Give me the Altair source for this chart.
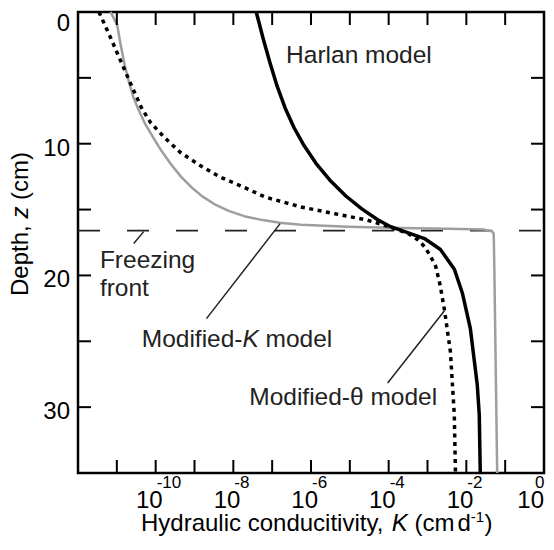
import altair as alt
import pandas as pd

FONT = "Liberation Sans"
W, H = 466, 461

# ---------------- data (depth in cm, log10 K in cm/d) ----------------
harlan_depth = [0, 2.028, 3.906, 5.633, 7.286, 8.788, 10.14, 11.49, 12.77, 13.97, 14.95, 15.77,
                16.30, 16.75, 17.20, 18.03, 19.53, 21.33, 24.03, 28.32, 30.57, 35.0]
harlan_logk = [-7.410, -7.231, -7.051, -6.872, -6.667, -6.436, -6.179, -5.872, -5.513, -5.103, -4.692, -4.282,
               -3.949, -3.513, -3.077, -2.667, -2.308, -2.103, -1.897, -1.718, -1.667, -1.641]

theta_depth = [0, 2.03, 4.06, 6.0, 7.3, 8.4, 9.54, 10.67, 11.57, 12.54, 13.29, 14.05, 14.8, 15.32,
               15.77, 16.15, 16.45, 16.8, 17.27, 17.8, 18.55, 19.3, 20.8, 22.68, 25.8, 30.57, 35.0]
theta_logk = [-11.46, -11.15, -10.85, -10.56, -10.36, -10.13, -9.77, -9.36, -8.90, -8.33, -7.74, -7.18,
              -6.26, -5.38, -4.59, -4.15, -3.85, -3.51, -3.26, -3.08, -2.92, -2.79, -2.67, -2.56,
              -2.41, -2.31, -2.28]

modk_depth = [0, 1.0, 2.5, 4.0, 5.3, 6.5, 7.5, 8.5, 9.5, 10.5, 11.5, 12.5, 13.3, 14.0, 14.6, 15.1,
              15.5, 15.8, 16.0, 16.15, 16.3, 16.4, 16.45, 16.52, 16.67, 16.85, 19.3, 35.0]
modk_logk = [-11.16, -10.99, -10.90, -10.80, -10.69, -10.57, -10.43, -10.27, -10.07, -9.86, -9.62, -9.35,
             -9.08, -8.80, -8.48, -8.12, -7.72, -7.25, -6.80, -6.26, -5.05, -3.69, -2.49, -1.54,
             -1.33, -1.295, -1.28, -1.205]

front_depth = 16.6
front_logk = [-12, 0]

xtick_exp = list(range(-11, 0))
xlabel_exp = [-10, -8, -6, -4, -2, 0]
ytick_vals = [5, 10, 15, 20, 25, 30]
ylabel_vals = [0, 10, 20, 30]

# leader lines: (logK1, depth1) -> (logK2, depth2)
leader_k1 = [-10.564, -8.692, -4.026]
leader_d1 = [17.575, 23.28, 28.17]
leader_k2 = [-10.308, -6.795, -2.564]
leader_d2 = [16.674, 16.07, 22.68]

# annotation anchors (logK, depth)
ann_text = ["Harlan model", "Freezing", "front", "Modified-\u03b8 model"]
ann_logk = [-6.641, -11.436, -11.436, -7.59]
ann_depth = [3.906, 19.45, 21.56, 29.82]
modk_label_logk = -10.359
modk_label_depth = 25.46

# ---------------- build ----------------
def curve(depth, logk):
    return pd.DataFrame({"depth": depth, "K": [10.0 ** v for v in logk]})

xscale = alt.Scale(type="log", domain=[1e-12, 1], nice=False)
yscale = alt.Scale(domain=[0, 35], reverse=True, nice=False, zero=False)
X = alt.X("K:Q", scale=xscale, axis=None)
Y = alt.Y("depth:Q", scale=yscale, axis=None)
ORD = alt.Order("depth:Q")

modk = alt.Chart(curve(modk_depth, modk_logk)).mark_line(
    color="#9e9e9e", strokeWidth=2.5, strokeJoin="round").encode(x=X, y=Y, order=ORD)
theta = alt.Chart(curve(theta_depth, theta_logk)).mark_line(
    color="black", strokeWidth=3.5, strokeDash=[4, 4.5]).encode(x=X, y=Y, order=ORD)
harlan = alt.Chart(curve(harlan_depth, harlan_logk)).mark_line(
    color="black", strokeWidth=3.5, strokeJoin="round").encode(x=X, y=Y, order=ORD)

front_df = pd.DataFrame({"K": [10.0 ** front_logk[0]], "K2": [10.0 ** front_logk[1]], "depth": [front_depth]})
front = alt.Chart(front_df).mark_rule(color="#222", strokeWidth=1.8, strokeDash=[22, 27]).encode(
    x=X, x2="K2:Q", y=Y)

lead_df = pd.DataFrame({"K": [10.0 ** v for v in leader_k1], "depth": leader_d1,
                        "K2": [10.0 ** v for v in leader_k2], "d2": leader_d2})
leaders = alt.Chart(lead_df).mark_rule(color="#222", strokeWidth=1.5).encode(
    x=X, x2="K2:Q", y=Y, y2="d2:Q")

AFS = 24.5
ann_df = pd.DataFrame({"K": [10.0 ** v for v in ann_logk], "depth": ann_depth, "t": ann_text})
ann = alt.Chart(ann_df).mark_text(align="left", baseline="alphabetic", fontSize=AFS, font=FONT,
                                  color="#222").encode(x=X, y=Y, text="t:N")

mk_df = pd.DataFrame({"K": [10.0 ** modk_label_logk], "depth": [modk_label_depth],
                      "a": ["Modified-"], "b": ["K"], "c": ["model"]})
mk_a = alt.Chart(mk_df).mark_text(align="left", baseline="alphabetic", fontSize=AFS, font=FONT,
                                  color="#222").encode(x=X, y=Y, text="a:N")
mk_b = alt.Chart(mk_df).mark_text(align="left", baseline="alphabetic", fontSize=AFS, font=FONT,
                                  fontStyle="italic", color="#222", dx=100.7).encode(x=X, y=Y, text="b:N")
mk_c = alt.Chart(mk_df).mark_text(align="left", baseline="alphabetic", fontSize=AFS, font=FONT,
                                  color="#222", dx=123.8).encode(x=X, y=Y, text="c:N")

# inward ticks
xt_df = pd.DataFrame({"K": [10.0 ** e for e in xtick_exp]})
tick_style = dict(color="black", strokeWidth=2)
top_ticks = alt.Chart(xt_df).mark_rule(**tick_style).encode(x=X, y=alt.value(0), y2=alt.value(13))
bot_ticks = alt.Chart(xt_df).mark_rule(**tick_style).encode(x=X, y=alt.value(H - 13), y2=alt.value(H))
yt_df = pd.DataFrame({"depth": ytick_vals})
left_ticks = alt.Chart(yt_df).mark_rule(**tick_style).encode(y=Y, x=alt.value(0), x2=alt.value(13))
right_ticks = alt.Chart(yt_df).mark_rule(**tick_style).encode(y=Y, x=alt.value(W - 13), x2=alt.value(W))

# y tick labels
yl_df = pd.DataFrame({"depth": ylabel_vals, "t": [str(v) for v in ylabel_vals]})
ylab_kw = dict(align="right", baseline="alphabetic", fontSize=24, font=FONT, color="black")
ylab_mid = alt.Chart(yl_df).transform_filter("datum.depth > 0").mark_text(dy=12, **ylab_kw).encode(
    y=Y, x=alt.value(-8), text="t:N")
ylab_top = alt.Chart(yl_df).transform_filter("datum.depth == 0").mark_text(dy=19, **ylab_kw).encode(
    y=Y, x=alt.value(-8), text="t:N")

# x tick labels: 10 with superscript exponent
lab_df = pd.DataFrame({"K": [10.0 ** e for e in xlabel_exp], "e": xlabel_exp,
                       "base": ["10"] * len(xlabel_exp), "exp": [str(e) for e in xlabel_exp]})
base_kw = dict(align="right", baseline="alphabetic", fontSize=24, font=FONT, color="black")
exp_kw = dict(align="left", baseline="alphabetic", fontSize=17, font=FONT, color="black")
base_neg = alt.Chart(lab_df).transform_filter("datum.e < 0").mark_text(dx=7, **base_kw).encode(
    x=X, y=alt.value(H + 35), text="base:N")
exp_neg = alt.Chart(lab_df).transform_filter("datum.e < 0").mark_text(dx=1, **exp_kw).encode(
    x=X, y=alt.value(H + 15), text="exp:N")
base_zero = alt.Chart(lab_df).transform_filter("datum.e == 0").mark_text(dx=0, **base_kw).encode(
    x=X, y=alt.value(H + 35), text="base:N")
exp_zero = alt.Chart(lab_df).transform_filter("datum.e == 0").mark_text(dx=-9, **exp_kw).encode(
    x=X, y=alt.value(H + 15), text="exp:N")

# axis titles built from pieces (mixed italic / superscript)
one = pd.DataFrame({"a": [0]})
def piece(txt, x, y, size=24, italic=False, angle=0):
    kw = dict(align="left", baseline="alphabetic", fontSize=size, font=FONT, color="black", text=txt)
    if italic:
        kw["fontStyle"] = "italic"
    if angle:
        kw["angle"] = angle
    return alt.Chart(one).mark_text(**kw).encode(x=alt.value(x), y=alt.value(y))

xs = 63
ty = H + 58
xt_pieces = [
    piece("Hydraulic conducitivity,", xs, ty),
    piece("K", xs + 250.8, ty, italic=True),
    piece("(cm", xs + 273.5, ty),
    piece("d", xs + 316.5, ty),
    piece("-1", xs + 329.8, ty - 9, size=15),
    piece(")", xs + 343.5, ty),
]
yx = -50
ys = 284
yt_pieces = [
    piece("Depth,", yx, ys, angle=270),
    piece("z", yx, ys - 77.4, italic=True, angle=270),
    piece("(cm)", yx, ys - 96.1, angle=270),
]

chart = alt.layer(
    front, modk, theta, harlan, leaders, ann, mk_a, mk_b, mk_c,
    top_ticks, bot_ticks, left_ticks, right_ticks, ylab_mid, ylab_top,
    base_neg, exp_neg, base_zero, exp_zero,
    *xt_pieces, *yt_pieces,
).properties(
    width=W, height=H,
    padding={"left": 70, "top": 4, "right": 2, "bottom": 63},
    autosize=alt.AutoSizeParams(type="none"),
).configure_view(stroke="black", strokeWidth=2.5)

chart.save("out.html", embed_options={"renderer": "svg", "actions": False})
